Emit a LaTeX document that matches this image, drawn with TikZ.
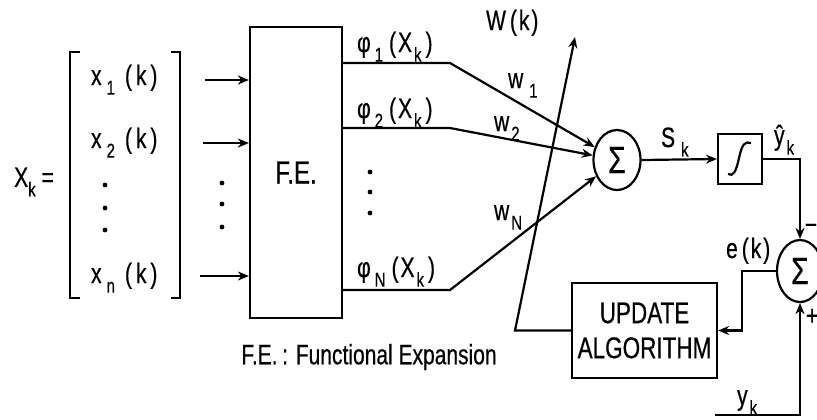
\documentclass[tikz,border=0pt]{standalone}
\usepackage{fontspec}
\setmainfont{Liberation Sans}[FakeStretch=0.75, FakeBold=0.5]
\usetikzlibrary{arrows.meta,shapes.geometric}
\newcommand{\lo}[1]{\raisebox{-0.65ex}{\fontsize{10}{10}\selectfont #1}}
\newcommand{\xin}[1]{x\hspace{2.5pt}\lo{#1}\hspace{5pt}(\hspace{2pt}k\hspace{2pt})}
\newcommand{\phin}[1]{φ\hspace{2pt}\lo{#1}\hspace{3pt}(\hspace{1pt}X\hspace{1pt}\lo{k}\hspace{2pt})}
\begin{document}
\begin{tikzpicture}[x=0.5pt,y=-0.5pt, line width=1.1pt,
  lbl/.style={font=\fontsize{14}{16}\selectfont, inner sep=0pt},
  arr/.style={-{Stealth[length=5.5pt,width=4.5pt]}},
  sumnode/.style={draw, ellipse, inner sep=0pt, font=\fontsize{19}{19}\selectfont},
  blk/.style={draw, rectangle, inner sep=0pt},
  dot/.style={circle, fill, inner sep=0pt, minimum size=2.4pt}]
\clip (0,0) rectangle (817,419);
% input vector
\node[lbl] (xk) at (34,182) {X\lo{k} =};
\draw (80,52) -- (70,52) -- (70,298) -- (80,298);
\draw (171,52) -- (180,52) -- (180,298) -- (171,298);
\node[lbl, anchor=base west] (x1) at (90,85) {\xin{1}};
\node[lbl, anchor=base west] (x2) at (90,148) {\xin{2}};
\node[lbl, anchor=base west] (xn) at (90,283) {\xin{n}};
\node[dot] (d1) at (105,185) {};
\node[dot] (d2) at (105,208) {};
\node[dot] (d3) at (105,230) {};
% functional expansion block
\node[blk, minimum width=46pt, minimum height=145.5pt, font=\fontsize{16}{16}\selectfont] (fe) at (296,172.5) {F.E.};
\coordinate (i1) at (205,80);
\coordinate (i2) at (203,143);
\coordinate (in) at (200,276);
\draw[arr] (i1) -- (i1 -| fe.west);
\draw[arr] (i2) -- (i2 -| fe.west);
\draw[arr] (in) -- (in -| fe.west);
\node[dot] (d4) at (222,183) {};
\node[dot] (d5) at (222,204) {};
\node[dot] (d6) at (222,227) {};
\node[lbl] (fenote) at (369,357) {F.E.\,: Functional Expansion};
% outputs
\node[lbl, anchor=base west] (p1) at (356,52) {\phin{1}};
\node[lbl, anchor=base west] (p2) at (356,118) {\phin{2}};
\node[lbl, anchor=base west] (pn) at (356,277) {\phin{N}};
\node[dot] (d7) at (370,172) {};
\node[dot] (d8) at (370,192) {};
\node[dot] (d9) at (370,213) {};
\node[sumnode, minimum width=23.5pt, minimum height=30pt] (s1) at (617,160) {Σ};
\coordinate (o1) at (450,63);
\coordinate (o2) at (450,128);
\coordinate (on) at (450,290);
\draw[arr] (o1 -| fe.east) -- (o1) -- (s1);
\draw[arr] (o2 -| fe.east) -- (o2) -- (s1);
\draw[arr] (on -| fe.east) -- (on) -- (s1);
\node[lbl, anchor=base west] (w1) at (507,88) {w\hspace{3pt}\lo{1}};
\node[lbl, anchor=base west] (w2) at (493,131) {w\hspace{1pt}\lo{2}};
\node[lbl, anchor=base west] (wn) at (493,220) {w\hspace{1pt}\lo{N}};
% weight adaptation
\node[blk, minimum width=72.5pt, minimum height=47.5pt, align=center, font=\fontsize{15}{17.5}\selectfont] (upd) at (644.5,330.5) {UPDATE\\ALGORITHM};
\coordinate (wb) at (515,328);
\coordinate (wt) at (575,37);
\draw[arr] (upd.west) -- (upd.west -| wb) -- (wt);
\node[lbl, anchor=base west] (wk) at (485,30) {W\hspace{2pt}(\hspace{1pt}k\hspace{1pt})};
% nonlinearity
\node[blk, minimum width=22pt, minimum height=25pt] (intb) at (740,159) {};
\draw (728,174) .. controls (733,177) and (736,172) .. (739,158) .. controls (742,144) and (745,141) .. (751,143);
\draw[arr] (s1.east) -- (intb.west);
\node[lbl, anchor=base west] (sk) at (660,147) {S\hspace{3pt}\lo{k}};
\node[lbl, anchor=base west] (yh) at (773,145) {ŷ\hspace{1pt}\lo{k}};
% error
\node[sumnode, minimum width=23pt, minimum height=31pt] (s2) at (800,271) {Σ};
\draw[arr] (intb.east) -| (s2.north);
\coordinate (yk) at (715,415);
\draw[arr] (yk) -| (s2.south);
\draw[arr] (s2.west) -- ++(-34,0) |- (upd.east);
\node[lbl, anchor=base west] (ek) at (725,258) {e\hspace{2pt}(\hspace{1pt}k\hspace{1pt})};
\node[lbl, anchor=base west] (ykl) at (736,405) {y\hspace{1pt}\lo{k}};
\node[lbl] (mi) at (811,229) {−};
\node[lbl] (pl) at (812,317) {+};
\end{tikzpicture}
\end{document}
